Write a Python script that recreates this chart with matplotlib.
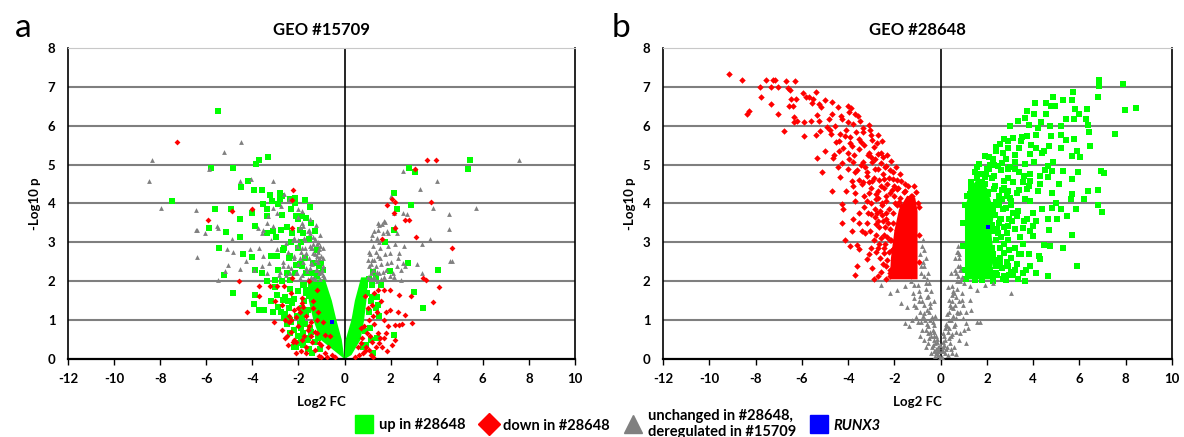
import matplotlib
matplotlib.use("Agg")
import matplotlib.pyplot as plt
from matplotlib.lines import Line2D

plt.rcParams["font.family"] = ["Lato", "DejaVu Sans"]

GREEN = "#00ff00"
RED = "#ff0000"
GRAY = "#808080"
BLUE = "#0000ff"

# ---------------- panel a: GEO #15709 ----------------
# outline of the solid green "V" where points overlap completely
a_up_core_left_x = [0.0, -1.05, -1.35, -1.55, -1.6, -0.85, -0.55, -0.35, -0.12, 0.0]
a_up_core_left_y = [0.0, 0.5, 1.0, 1.5, 2.05, 2.05, 1.5, 1.0, 0.5, 0.0]
a_up_core_right_x = [0.0, 0.05, 0.3, 0.45, 0.72, 1.02, 0.95, 0.85, 0.7, 0.3]
a_up_core_right_y = [0.0, 0.5, 1.0, 1.5, 2.1, 2.1, 1.5, 1.0, 0.5, 0.1]

a_up_pts = [
    (-5.51, 6.37), (-7.49, 4.07), (-5.80, 4.92), (-4.82, 4.92), (-3.69, 5.13), (-3.32, 5.20),
    (-3.85, 5.01), (-4.19, 4.58), (-4.47, 4.43), (-3.92, 4.34), (-3.60, 4.34), (-5.63, 3.87),
    (-4.93, 3.87), (-5.86, 3.38), (-5.15, 3.26), (-4.55, 3.59), (-4.52, 3.14), (-5.43, 2.86),
    (-4.42, 2.71), (-4.02, 2.63), (-5.22, 2.17), (-4.82, 1.70), (-3.89, 1.64), (-3.94, 1.42),
    (-3.69, 1.27), (-3.49, 1.27), (-3.55, 3.98), (-3.36, 3.87), (-3.16, 4.07), (-3.22, 4.21),
    (-2.81, 4.28), (-2.72, 4.19), (-2.82, 4.11), (-2.89, 3.98), (-2.36, 4.11), (-2.16, 4.13),
    (-2.16, 4.02), (-2.33, 3.87), (-3.36, 3.68), (-4.02, 3.76), (-3.89, 3.42), (-3.36, 3.25),
    (-2.99, 3.14), (-2.61, 2.86), (-2.69, 2.80), (-3.19, 2.66), (-2.92, 2.66), (-3.89, 2.28),
    (-3.60, 2.20), (-3.36, 2.00), (-3.02, 2.04), (-2.77, 3.33), (-2.28, 3.25), (-2.09, 3.68),
    (-2.03, 3.59), (-1.83, 3.68), (-1.69, 3.63), (-1.94, 3.33), (-1.78, 3.25), (-1.56, 3.08),
    (-2.03, 2.86), (-2.36, 2.64), (-2.11, 2.43), (-1.86, 2.39), (-1.69, 2.21), (-1.36, 2.47),
    (-1.03, 2.47), (-0.95, 2.30), (-1.20, 2.13), (-2.36, 2.04), (-2.94, 1.65), (-2.69, 1.52),
    (-2.44, 1.48), (-2.28, 1.44), (-2.77, 1.22), (-3.11, 1.22), (-2.61, 1.05), (-2.36, 1.01),
    (-2.19, 0.75), (-1.78, 0.66), (-2.36, 0.66), (-2.03, 0.40), (-1.61, 0.49), (-1.86, 1.01),
    (-1.69, 1.18), (-1.53, 1.61), (-1.69, 1.78), (-1.75, 1.90), (-1.85, 1.30), (-1.95, 0.90),
    (-1.60, 0.25), (-2.10, 0.30), (-1.45, 0.70), (-1.90, 0.55), (-1.15, 2.20),
    (-2.90, 1.35), (-2.60, 1.15), (-2.40, 1.30), (-2.20, 1.55), (-2.00, 1.75), (-1.80, 1.90),
    (-1.75, 1.50), (-2.50, 0.90), (-2.30, 0.95), (-2.05, 1.10), (-1.90, 0.80), (-1.70, 0.90),
    (-1.60, 0.55), (-1.80, 0.35), (-2.00, 0.60), (-2.20, 0.30), (-1.55, 0.25), (-1.40, 0.15),
    (-1.30, 0.45), (-1.50, 0.80), (-1.60, 1.25), (-2.60, 1.60), (-2.15, 2.20), (-1.95, 2.45),
    (-2.50, 2.20), (-2.70, 2.00), (-3.00, 1.85), (-3.20, 1.50), (-1.85, 1.15), (-1.65, 1.70),
    (-2.35, 1.80), (-1.05, 0.25), (-1.15, 0.55), (-1.30, 3.30), (-1.50, 3.90), (-1.70, 4.10),
    (-1.45, 3.50), (-1.20, 2.80), (-1.10, 2.40), (-1.40, 2.20), (-1.70, 2.60), (-2.30, 3.00),
    (-2.50, 3.40), (-2.70, 3.70), (-3.10, 3.30), (-2.40, 2.60), (-2.90, 2.30), (-1.90, 3.00),
    (5.45, 5.12), (5.37, 4.88), (2.79, 4.92), (3.06, 4.81), (2.16, 4.28), (2.87, 3.95),
    (2.29, 3.87), (2.13, 3.31), (1.76, 3.01), (2.76, 2.47), (4.07, 2.30), (1.96, 2.26),
    (3.01, 1.72), (3.42, 1.31), (2.13, 0.62), (1.46, 1.40), (1.13, 1.48), (0.96, 1.70),
    (1.05, 1.22), (0.88, 0.71), (1.13, 0.49), (0.80, 0.32), (1.25, 2.25), (1.35, 2.10),
    (1.20, 1.90), (1.40, 1.60), (0.95, 0.35), (1.10, 0.80), (1.20, 1.60), (1.35, 1.30),
    (1.50, 1.10), (0.90, 1.90), (1.05, 2.05), (1.60, 1.90), (1.40, 0.55), (1.25, 0.15),
]

a_down_pts = [
    (-7.29, 5.57), (-5.93, 3.57), (-4.90, 3.80), (-4.02, 3.87), (-4.57, 2.00), (-4.22, 1.21),
    (-3.72, 1.87), (-3.69, 1.61), (-3.22, 1.89), (-2.94, 1.87), (-2.61, 1.87), (-2.33, 1.70),
    (-2.28, 2.08), (-2.23, 4.35), (-2.28, 4.08), (-2.28, 3.38), (-3.06, 0.96), (-2.39, 0.96),
    (-2.11, 1.09), (-1.86, 1.57), (-1.78, 1.35), (-2.03, 0.84), (-2.19, 0.49), (-1.86, 0.49),
    (-1.69, 0.32), (-1.53, 0.84), (-1.45, 0.58), (-1.28, 0.23), (-0.86, 0.15), (-1.03, 0.36),
    (-1.20, 0.66), (-0.86, 0.62), (-0.70, 0.32), (-0.53, 0.10), (-1.20, 1.01), (-1.36, 1.31),
    (-2.49, 0.58), (-2.11, 0.45), (-2.72, 0.75), (-2.19, 1.27), (-1.53, 2.00), (-1.20, 1.78),
    (-1.65, 0.15), (-1.40, 0.45), (-0.95, 0.95), (-1.10, 0.08), (-2.30, 1.00), (-1.95, 1.20),
    (-0.65, 0.60), (-0.40, 0.05), (-2.45, 0.35), (-2.60, 0.55), (-2.30, 0.70), (-2.10, 0.15),
    (-1.90, 0.20), (-1.75, 0.60), (-1.60, 0.75), (-1.45, 0.95), (-1.30, 0.70), (-1.10, 0.40),
    (-1.00, 0.05), (-0.75, 0.05), (-1.65, 1.10), (-2.00, 1.30), (-2.40, 1.10), (-1.35, 1.50),
    (-1.15, 1.20), (-2.70, 1.40), (-3.00, 1.50), (-2.60, 1.00), (-2.25, 0.45), (-1.85, 1.45),
    (3.57, 5.12), (3.99, 5.12), (3.04, 4.88), (2.04, 4.11), (2.18, 4.04), (1.84, 3.95),
    (2.13, 3.76), (2.62, 3.57), (2.82, 3.57), (3.75, 4.05), (3.12, 3.14), (4.67, 2.86),
    (2.21, 3.38), (1.63, 3.09), (3.54, 2.04), (3.41, 2.08), (4.09, 1.84), (3.84, 1.46),
    (2.38, 1.65), (2.87, 1.61), (1.96, 1.78), (1.71, 1.78), (1.96, 1.27), (1.79, 1.22),
    (2.62, 1.14), (2.92, 0.92), (2.38, 0.88), (2.21, 0.88), (1.88, 0.84), (1.79, 0.66),
    (2.21, 0.49), (1.46, 0.66), (1.38, 0.32), (1.63, 0.32), (1.05, 0.23), (1.21, 0.45),
    (0.80, 0.15), (0.63, 0.10), (0.96, 0.66), (1.05, 1.01), (0.88, 1.61), (1.30, 1.70),
    (1.46, 1.78), (1.15, 0.10), (1.55, 0.55), (0.45, 0.05), (0.70, 0.40), (1.25, 1.10),
    (1.70, 1.00), (0.95, 0.30), (0.60, 0.30), (0.75, 0.55), (0.90, 0.20), (1.10, 0.60),
    (1.30, 0.90), (1.50, 0.40), (1.70, 0.55), (1.85, 0.20), (2.05, 0.35), (1.20, 1.40),
    (1.40, 1.20), (1.60, 1.50), (0.85, 0.85), (1.00, 1.30), (2.30, 1.20), (2.50, 0.90),
    (0.70, 0.80), (1.25, 0.05),
]

a_gray_pts = [
    (-8.36, 5.12), (-8.49, 4.57), (-7.96, 3.88), (-6.43, 3.82), (-6.45, 3.33), (-6.38, 3.31),
    (-6.06, 3.23), (-6.38, 2.63), (-5.23, 5.33), (-4.47, 5.57), (-5.88, 4.88), (-4.55, 4.57),
    (-4.07, 4.63), (-3.12, 4.57), (-5.55, 3.42), (-5.51, 3.38), (-4.90, 3.09), (-5.10, 2.84),
    (-5.05, 2.43), (-5.18, 2.26), (-5.51, 2.02), (-4.55, 2.32), (-4.27, 2.52), (-4.82, 2.75),
    (-4.10, 2.83), (-3.69, 2.86), (-3.77, 3.38), (-3.55, 3.33), (-3.60, 3.25), (-3.36, 3.49),
    (-3.12, 3.42), (-2.61, 4.25), (-2.39, 4.11), (-2.77, 3.94), (-3.11, 3.89), (-2.94, 3.76),
    (-3.31, 3.68), (-3.19, 3.07), (-2.94, 2.82), (-3.52, 2.64), (-3.27, 2.47), (-3.60, 2.39),
    (-3.94, 2.28), (-3.36, 2.21), (-2.86, 2.17), (-2.44, 2.39), (-2.19, 2.64), (-1.86, 2.86),
    (-2.03, 3.07), (-1.78, 3.42), (-1.50, 3.25), (-1.28, 3.08), (-1.11, 2.82), (-0.95, 2.60),
    (-1.20, 2.64), (-1.45, 2.47), (-1.61, 2.26), (-1.20, 2.30), (-0.95, 2.17), (-1.36, 2.08),
    (-1.94, 2.08), (-1.69, 2.73), (-1.45, 2.86), (-1.86, 3.81), (-2.03, 3.85), (-1.53, 3.33),
    (-2.19, 3.12), (-2.52, 2.99), (-2.36, 2.21), (-2.06, 2.21), (-2.69, 2.39), (-1.36, 2.73),
    (-0.90, 2.10), (-0.95, 2.40), (-1.00, 2.65), (-1.05, 2.90), (-1.10, 2.20), (-1.15, 2.50),
    (-1.20, 2.95), (-1.25, 2.30), (-1.30, 2.70), (-1.35, 3.15), (-1.40, 2.45), (-1.45, 2.10),
    (-1.50, 2.90), (-1.55, 2.60), (-1.60, 3.30), (-1.65, 2.35), (-1.70, 2.85), (-1.75, 3.10),
    (-1.80, 2.50), (-1.85, 2.15), (-1.90, 2.75), (-1.95, 3.40), (-2.00, 2.45), (-2.05, 2.90),
    (-2.10, 2.20), (-2.20, 2.60), (-2.25, 3.05), (-2.30, 2.35), (-2.45, 2.75), (-2.55, 2.15),
    (-2.65, 2.50), (-2.80, 2.25), (-1.05, 3.20), (-1.25, 3.45), (-1.50, 3.60), (-1.30, 2.05),
    (-1.00, 2.25), (-1.15, 2.75), (-1.60, 2.05), (-1.75, 2.65), (-1.40, 2.85), (-2.00, 3.65),
    (-1.85, 3.50), (-1.15, 3.00), (-0.92, 2.85), (-1.05, 2.05), (-1.25, 2.55), (-1.50, 2.35),
    (-1.70, 3.05), (-1.95, 2.60), (-1.35, 2.95), (-1.10, 2.60), (-0.98, 2.30),
    (7.57, 5.12), (2.54, 4.84), (3.29, 4.38), (4.00, 4.57), (3.84, 3.89), (5.70, 3.89),
    (4.53, 3.74), (4.53, 3.35), (3.70, 3.09), (3.37, 2.95), (3.16, 2.45), (4.58, 2.52),
    (4.67, 2.52), (3.37, 2.21), (2.57, 2.90), (2.46, 2.02), (2.13, 2.10), (2.62, 2.39),
    (2.29, 2.39), (1.99, 2.13), (1.83, 2.47), (1.96, 2.73), (2.29, 3.25), (2.38, 2.73),
    (2.54, 2.47), (2.13, 3.76), (2.54, 3.76), (2.71, 3.72), (1.63, 3.47), (1.46, 3.31),
    (1.76, 3.52), (2.03, 4.18), (2.21, 3.42), (1.88, 3.25), (1.00, 2.10), (1.05, 2.40),
    (1.10, 2.70), (1.15, 2.20), (1.20, 2.55), (1.25, 2.90), (1.30, 2.10), (1.35, 2.40),
    (1.40, 3.10), (1.45, 2.65), (1.50, 2.20), (1.55, 2.85), (1.60, 2.45), (1.65, 3.25),
    (1.70, 2.10), (1.75, 2.70), (1.80, 2.30), (1.90, 2.90), (2.00, 2.50), (2.10, 2.20),
    (2.20, 2.95), (1.30, 3.30), (1.15, 3.05), (1.50, 3.45), (1.00, 2.55), (1.10, 2.05),
    (1.40, 2.00), (1.60, 2.05), (1.25, 2.30), (1.35, 2.75), (1.45, 3.50), (1.70, 3.55),
    (1.85, 3.30), (2.30, 2.60), (2.45, 2.30), (1.20, 2.05), (1.05, 2.75), (1.30, 2.55),
    (1.55, 2.60), (1.65, 2.25), (1.15, 2.45), (1.40, 2.25), (1.20, 3.20), (1.50, 3.00),
]

a_runx3_x = [-0.53]
a_runx3_y = [0.96]

# ---------------- panel b: GEO #28648 ----------------
# outlines of the solid blocks where points overlap completely
b_down_core_x = [-2.2, -1.0, -1.0, -1.1, -1.45, -1.8, -2.0, -2.15]
b_down_core_y = [2.05, 2.05, 3.8, 4.15, 4.2, 3.85, 3.3, 2.6]
b_up_core_x = [1.05, 2.15, 2.3, 2.2, 2.3, 2.0, 1.6, 1.3, 1.05]
b_up_core_y = [2.05, 2.05, 2.6, 3.2, 3.8, 4.4, 4.65, 4.4, 3.9]

b_down_pts = [
    (-9.17, 7.34), (-8.59, 7.17), (-7.55, 7.17), (-7.26, 7.17), (-7.17, 7.17), (-6.68, 7.15),
    (-6.29, 7.15), (-7.80, 6.99), (-7.34, 6.99), (-7.03, 6.99), (-6.58, 6.97), (-6.53, 6.93),
    (-7.75, 6.74), (-7.34, 6.55), (-8.29, 6.39), (-8.38, 6.30), (-7.03, 6.30), (-6.78, 5.86),
    (-6.48, 6.68), (-6.24, 6.68), (-6.40, 6.52), (-6.57, 6.52), (-5.96, 6.85), (-5.83, 6.75),
    (-5.71, 6.74), (-5.41, 6.86), (-5.50, 6.69), (-5.58, 6.59), (-5.28, 6.56), (-5.00, 6.67),
    (-4.71, 6.62), (-5.17, 6.48), (-5.36, 6.28), (-6.32, 6.22), (-6.19, 6.12), (-6.32, 6.09),
    (-5.91, 6.09), (-5.61, 6.13), (-5.25, 6.11), (-4.84, 6.18), (-4.43, 6.48), (-4.02, 6.50),
    (-3.88, 6.45), (-3.69, 6.30), (-3.56, 6.24), (-3.50, 6.13), (-4.26, 6.18), (-4.02, 6.09),
    (-3.77, 6.05), (-3.11, 6.02), (-4.92, 5.96), (-5.20, 5.87), (-5.41, 5.76), (-5.91, 5.73),
    (-4.76, 5.79), (-4.34, 5.79), (-4.13, 5.74), (-3.93, 5.70), (-3.65, 5.83), (-3.36, 5.83),
    (-3.03, 5.76), (-2.73, 5.76), (-4.54, 5.57), (-4.21, 5.44), (-3.85, 5.49), (-3.44, 5.59),
    (-2.95, 5.63), (-2.53, 5.62), (-5.00, 5.36), (-4.38, 5.36), (-4.02, 5.31), (-3.52, 5.40),
    (-3.11, 5.31), (-2.70, 5.27), (-5.33, 5.16), (-4.67, 5.16), (-3.77, 5.06), (-3.36, 5.06),
    (-2.95, 5.06), (-2.50, 5.19), (-5.12, 4.81), (-4.43, 4.93), (-4.02, 4.88), (-3.69, 4.80),
    (-3.19, 4.80), (-2.70, 4.88), (-2.37, 4.97), (-2.04, 4.80), (-4.34, 4.67), (-3.85, 4.58),
    (-3.36, 4.54), (-2.95, 4.58), (-2.45, 4.63), (-2.04, 4.63), (-1.71, 4.58), (-4.71, 4.32),
    (-4.10, 4.32), (-3.69, 4.28), (-3.11, 4.28), (-2.70, 4.32), (-2.21, 4.28), (-1.88, 4.37),
    (-1.55, 4.32), (-4.26, 3.98), (-3.69, 4.07), (-3.19, 4.07), (-2.78, 4.11), (-2.37, 4.07),
    (-4.21, 3.87), (-3.52, 3.76), (-3.03, 3.72), (-2.62, 3.81), (-4.26, 3.51), (-3.52, 3.51),
    (-3.19, 3.51), (-2.78, 3.46), (-2.29, 3.51), (-3.82, 3.29), (-3.27, 3.25), (-2.78, 3.20),
    (-4.15, 3.05), (-3.60, 2.92), (-3.93, 2.90), (-3.52, 2.82), (-3.03, 2.86), (-2.70, 2.86),
    (-3.19, 2.56), (-2.62, 2.60), (-2.45, 2.73), (-3.60, 2.40), (-3.69, 2.17), (-2.70, 2.13),
    (-2.37, 2.39), (-2.21, 2.13), (-2.04, 2.82), (-2.21, 3.07), (-1.88, 3.33), (-2.04, 3.76),
    (-1.71, 3.94), (-1.38, 4.11), (-1.96, 4.02), (-2.37, 3.76), (-1.22, 4.19),
    (-3.40, 4.50), (-3.20, 4.70), (-3.00, 4.40), (-2.85, 4.90), (-2.60, 4.45), (-2.50, 4.75),
    (-2.30, 4.50), (-2.20, 4.85), (-2.10, 4.35), (-1.90, 4.60), (-1.80, 4.05), (-2.00, 4.20),
    (-2.70, 4.15), (-3.30, 4.20), (-2.90, 4.65), (-2.40, 4.95), (-3.60, 4.85), (-3.80, 4.45),
    (-2.15, 5.10), (-2.60, 5.05), (-3.00, 5.20), (-3.45, 5.00), (-2.35, 4.20), (-2.55, 4.00),
    (-4.40, 5.60), (-4.10, 5.90), (-3.90, 5.55), (-3.75, 5.25), (-3.55, 5.65), (-3.30, 5.50),
    (-3.15, 5.25), (-2.90, 5.45), (-2.75, 5.55), (-2.60, 5.30), (-4.60, 5.25), (-4.25, 5.05),
    (-3.95, 5.15), (-4.80, 5.90), (-4.55, 6.00), (-3.35, 5.95), (-3.05, 5.90), (-4.30, 6.25),
    (-4.70, 6.30), (-3.95, 6.35), (-3.30, 3.90), (-3.05, 3.30), (-2.85, 3.65), (-2.65, 3.40),
    (-2.55, 3.95), (-2.45, 3.20), (-2.35, 3.60), (-2.25, 3.85), (-2.20, 3.35), (-2.15, 3.05),
    (-2.90, 3.05), (-3.40, 3.30), (-2.75, 3.75), (-2.50, 3.55), (-3.15, 3.75), (-2.40, 2.95),
    (-2.30, 3.15), (-3.80, 3.60), (-2.95, 2.35), (-2.80, 2.75), (-2.60, 2.25), (-2.50, 2.45),
    (-2.45, 2.85), (-2.35, 2.05), (-2.30, 2.55), (-2.25, 2.75), (-2.20, 2.20), (-2.90, 2.05),
    (-3.10, 2.70), (-2.65, 2.95), (-1.00, 4.00), (-1.05, 4.30), (-1.15, 4.45), (-1.30, 4.20),
    (-1.60, 4.30), (-1.75, 4.15), (-1.90, 3.95), (-2.05, 3.50), (-2.12, 2.80), (-2.18, 2.30),
    (-0.95, 3.90), (-0.92, 2.50), (-0.92, 3.20), (-1.40, 4.45), (-1.55, 4.50), (-1.85, 4.40),
    (-2.45, 4.40), (-2.65, 4.60), (-2.80, 4.25), (-3.10, 4.55), (-2.25, 4.65), (-2.00, 4.45),
    (-1.75, 4.75), (-2.55, 3.70), (-2.70, 3.55), (-2.40, 3.40), (-2.60, 3.10), (-2.85, 3.85),
    (-3.00, 4.00), (-1.95, 4.95), (-2.30, 5.25), (-2.85, 5.15), (-3.25, 4.95), (-3.55, 4.60),
]

b_up_pts = [
    (6.85, 7.17), (6.85, 7.02), (7.87, 7.07), (6.78, 6.75), (5.74, 6.86), (7.95, 6.40),
    (8.44, 6.46), (4.87, 6.74), (4.08, 6.59), (4.54, 6.59), (4.75, 6.50), (4.95, 6.50),
    (3.72, 6.39), (5.28, 6.65), (5.69, 6.65), (5.81, 6.43), (5.97, 6.30), (6.34, 6.43),
    (5.76, 6.18), (5.40, 6.18), (6.30, 6.18), (4.54, 6.30), (4.05, 6.30), (3.36, 6.11),
    (3.80, 6.02), (4.34, 6.09), (4.74, 5.99), (5.20, 5.99), (6.35, 6.02), (6.39, 5.85),
    (7.54, 5.78), (2.73, 5.66), (3.11, 5.68), (3.47, 5.62), (3.72, 5.74), (4.13, 5.76),
    (4.75, 5.74), (5.20, 5.76), (5.40, 5.64), (5.78, 5.66), (2.57, 5.53), (2.90, 5.44),
    (3.39, 5.44), (4.13, 5.44), (4.69, 5.49), (5.20, 5.44), (5.90, 5.36), (6.47, 5.47),
    (2.40, 5.36), (3.88, 5.27), (4.38, 5.31), (5.69, 5.23), (6.02, 5.19), (1.91, 5.23),
    (2.24, 5.14), (2.81, 5.14), (3.23, 5.06), (3.64, 5.01), (4.05, 5.06), (4.87, 5.06),
    (4.62, 4.97), (1.66, 5.01), (2.07, 4.88), (2.48, 4.97), (2.90, 4.88), (3.39, 4.80),
    (3.88, 4.75), (4.79, 4.84), (5.28, 4.84), (5.94, 4.80), (6.93, 4.84), (7.04, 4.78),
    (1.50, 4.80), (1.91, 4.67), (2.32, 4.71), (2.73, 4.58), (3.14, 4.54), (3.55, 4.54),
    (3.88, 4.58), (4.30, 4.71), (4.62, 4.67), (5.12, 4.50), (5.69, 4.63), (1.33, 4.50),
    (1.74, 4.41), (2.32, 4.37), (2.90, 4.32), (3.31, 4.28), (3.72, 4.37), (4.21, 4.32),
    (4.79, 4.28), (5.66, 4.24), (6.35, 4.32), (6.80, 4.34), (1.25, 4.24), (2.65, 4.11),
    (3.06, 4.07), (3.64, 4.11), (3.88, 4.07), (6.19, 4.11), (5.00, 4.01), (5.64, 4.11),
    (2.81, 3.89), (3.14, 3.76), (4.38, 3.85), (4.79, 3.89), (5.20, 3.85), (5.86, 3.85),
    (6.80, 3.96), (6.97, 3.78), (2.57, 3.59), (3.31, 3.68), (3.72, 3.59), (4.13, 3.55),
    (4.62, 3.59), (5.03, 3.59), (5.44, 3.68), (2.90, 3.42), (3.55, 3.38), (3.97, 3.42),
    (4.70, 3.33), (5.67, 3.20), (2.48, 3.25), (2.90, 3.07), (3.23, 2.86), (3.55, 2.95),
    (3.97, 3.16), (4.46, 2.92), (4.74, 2.90), (5.28, 2.85), (2.73, 2.73), (3.06, 2.60),
    (3.47, 2.69), (4.26, 2.64), (4.30, 2.56), (2.57, 2.47), (2.90, 2.39), (3.23, 2.30),
    (3.88, 2.39), (5.89, 2.39), (2.40, 2.21), (2.73, 2.13), (3.14, 2.17), (3.55, 2.21),
    (4.13, 2.21), (4.62, 2.13), (2.81, 2.04), (3.64, 2.00), (2.24, 2.00),
    (2.15, 2.30), (2.30, 2.55), (2.45, 2.15), (2.55, 2.60), (2.65, 2.35), (2.70, 2.05),
    (2.85, 2.50), (2.95, 2.80), (3.05, 2.25), (3.30, 2.45), (3.40, 2.70), (2.20, 2.85),
    (2.40, 3.05), (2.60, 3.15), (2.75, 2.95), (3.35, 2.05), (3.70, 2.30), (3.80, 2.70),
    (2.20, 3.45), (2.35, 3.70), (2.45, 3.35), (2.60, 3.60), (2.70, 3.85), (2.85, 3.25),
    (2.95, 3.60), (3.05, 3.95), (3.20, 3.35), (3.35, 3.80), (3.45, 3.15), (2.25, 3.95),
    (2.50, 3.95), (3.60, 3.55), (3.85, 3.30), (4.00, 3.75), (1.30, 4.55), (1.50, 4.35),
    (1.70, 4.75), (1.90, 4.50), (2.05, 4.30), (2.20, 4.65), (2.35, 4.45), (2.50, 4.20),
    (2.60, 4.85), (2.75, 4.40), (2.90, 4.65), (3.00, 4.15), (3.20, 4.90), (3.40, 4.35),
    (3.60, 4.70), (3.80, 4.45), (1.55, 4.95), (2.00, 4.90), (2.30, 5.00), (2.65, 5.05),
    (3.00, 4.95), (4.30, 4.50), (4.50, 4.85), (2.10, 5.20), (2.40, 5.45), (2.70, 5.30),
    (2.90, 5.60), (3.20, 5.25), (3.50, 5.70), (3.90, 5.50), (4.20, 5.95), (4.45, 5.35),
    (3.00, 6.00), (3.65, 6.20), (0.98, 2.30), (0.98, 2.90), (0.98, 3.50), (1.05, 3.95),
    (1.15, 4.20), (1.30, 4.40), (1.55, 4.65), (1.80, 4.55), (2.05, 4.25), (2.25, 3.85),
    (2.30, 3.30), (2.25, 2.70), (2.20, 2.15), (1.50, 2.02), (1.10, 2.05), (1.80, 2.02),
    (2.40, 2.40), (2.55, 2.85), (2.50, 3.50), (2.40, 4.05), (2.65, 4.35), (1.95, 4.75),
    (2.15, 5.00), (2.85, 4.20), (3.10, 3.55), (2.75, 3.40), (2.35, 2.20), (2.95, 2.15),
]

b_gray_pts = [
    (-0.76, 3.06), (-2.57, 1.91), (-2.21, 1.70), (-1.88, 1.78), (-1.55, 1.87), (-1.14, 1.91),
    (-0.72, 2.13), (-0.64, 1.96), (-0.89, 1.61), (-1.14, 1.57), (-1.46, 1.35), (-1.05, 1.35),
    (-1.55, 0.92), (-1.22, 1.01), (-0.56, 1.61), (-0.48, 1.44), (-0.72, 1.18), (-0.39, 1.09),
    (-0.81, 0.75), (-0.56, 0.66), (-0.31, 0.58), (-0.72, 0.49), (-0.39, 0.32), (-0.15, 0.15),
    (-0.23, 0.40), (-0.89, 0.58), (-0.31, 0.88), (-1.05, 1.09), (-1.38, 0.84), (-0.75, 3.05),
    (-0.70, 2.80), (-0.65, 2.60), (-0.70, 2.40), (-0.55, 2.20), (-0.60, 2.05), (-0.75, 2.50),
    (-0.10, 0.10), (-0.20, 0.25), (-0.30, 0.50), (-0.45, 0.70), (-0.60, 0.90), (-0.50, 1.20),
    (-0.70, 1.40), (-0.65, 1.80), (-0.80, 1.50), (-0.90, 1.20), (-1.00, 0.95), (-0.30, 0.20),
    (-0.15, 0.45), (-0.35, 0.75), (-0.55, 0.40), (-0.75, 1.10), (-0.95, 1.75), (-0.85, 2.40),
    (-0.90, 2.70), (-0.80, 2.90), (-0.85, 2.20), (-1.20, 1.70), (-1.00, 1.90), (-1.30, 2.00),
    (-0.05, 0.05), (-0.25, 0.08), (-0.40, 0.15), (-0.62, 0.30), (-0.45, 1.00), (-0.20, 0.60),
    (-0.35, 0.95), (-0.45, 1.35), (-0.60, 1.60), (-0.05, 0.35), (-0.25, 1.10), (-0.40, 1.75),
    (-0.50, 1.95), (-0.30, 1.50), (-1.15, 1.40), (-0.95, 1.50), (-1.70, 1.45), (-0.10, 0.20),
    (-0.12, 0.30), (-0.22, 0.15), (-0.35, 0.35), (-0.50, 0.55), (-0.65, 0.75), (-0.40, 0.60),
    (-0.28, 0.70), (-0.55, 0.85), (-0.18, 0.52), (-0.68, 1.00), (-0.60, 1.25), (-0.85, 0.95),
    (0.76, 2.90), (0.84, 2.39), (0.67, 2.21), (1.00, 1.96), (1.25, 1.87), (1.58, 1.78),
    (1.91, 1.91), (2.24, 1.96), (3.06, 1.71), (1.25, 1.52), (0.92, 1.52), (0.59, 1.70),
    (0.43, 1.35), (0.76, 1.18), (1.33, 1.27), (1.58, 0.96), (1.71, 0.94), (1.09, 0.92),
    (0.59, 0.84), (0.35, 1.01), (0.84, 0.66), (0.43, 0.58), (0.26, 0.32), (0.59, 0.32),
    (0.18, 0.15), (1.09, 0.40), (0.10, 0.66), (0.26, 0.84), (0.35, 1.52), (0.51, 1.87),
    (0.76, 2.13), (0.10, 0.20), (0.20, 0.50), (0.30, 0.70), (0.45, 1.00), (0.55, 1.30),
    (0.65, 1.60), (0.70, 2.00), (0.75, 2.40), (0.80, 2.70), (0.60, 2.60), (0.85, 2.00),
    (0.40, 0.40), (0.60, 0.90), (0.50, 1.50), (0.90, 1.70), (0.70, 1.20), (0.25, 0.90),
    (0.15, 0.60), (0.35, 1.20), (0.95, 1.40), (1.10, 1.20), (1.20, 0.80), (0.80, 0.50),
    (0.50, 0.15), (0.75, 2.75), (0.80, 2.60), (0.85, 2.30), (0.90, 2.10), (0.72, 2.75),
    (0.05, 0.05), (0.30, 0.10), (0.45, 0.25), (0.65, 0.12), (0.20, 0.80), (0.35, 0.55),
    (0.15, 0.35), (0.05, 0.20), (0.40, 1.40), (0.55, 1.75), (0.45, 2.20), (0.60, 2.30),
    (0.30, 1.85), (0.65, 1.05), (0.85, 1.20), (1.00, 0.75), (0.08, 0.30), (-0.08, 0.20),
    (0.12, 0.45), (0.22, 0.25), (0.38, 0.80), (0.50, 0.65), (0.68, 0.70), (0.55, 1.10),
    (0.28, 1.15), (0.62, 1.40), (0.78, 1.50), (0.70, 1.80), (0.48, 1.65), (0.95, 1.05),
]

b_runx3_x = [2.04]
b_runx3_y = [3.40]

x_ticks = list(range(-12, 11, 2))
y_ticks = list(range(0, 9))


def xs(pts):
    return [p[0] for p in pts]


def ys(pts):
    return [p[1] for p in pts]


def style_axes(ax, title):
    ax.set_xlim(-12, 10)
    ax.set_ylim(0, 8)
    for y in y_ticks[1:8]:
        ax.axhline(y, color="#7f7f7f", lw=1.5, zorder=0.5)
    ax.axvline(0, color="black", lw=1.2, zorder=0.6)
    for side in ["left", "right", "bottom"]:
        ax.spines[side].set_color("black")
        ax.spines[side].set_linewidth(1.2)
    ax.spines["top"].set_color("#c8c8c8")
    ax.spines["top"].set_linewidth(0.8)
    ax.spines["bottom"].set_linewidth(1.6)
    ax.set_xticks(x_ticks)
    ax.set_yticks(y_ticks)
    ax.set_xticklabels([str(v) for v in x_ticks], fontsize=9.5, fontweight="bold")
    ax.set_yticklabels([str(v) for v in y_ticks], fontsize=9.5, fontweight="bold")
    ax.tick_params(axis="x", length=4, width=1, pad=6, direction="out")
    ax.tick_params(axis="y", length=0, pad=9)
    ax.set_xlabel("Log2 FC", fontsize=9.5, fontweight="bold", labelpad=8)
    ax.set_ylabel("-Log10 p", fontsize=9.5, fontweight="bold", labelpad=5)
    ax.text(0.5, 1.058, title, transform=ax.transAxes, ha="center", va="center",
            fontsize=12, fontweight="bold")


fig = plt.figure(figsize=(11.84, 4.37), dpi=100)
ax_a = fig.add_axes([0.0574, 0.1785, 0.4282, 0.7117])
ax_b = fig.add_axes([0.5600, 0.1785, 0.4299, 0.7117])

# panel a
ax_a.fill(a_up_core_left_x, a_up_core_left_y, color=GREEN, lw=0, zorder=2)
ax_a.fill(a_up_core_right_x, a_up_core_right_y, color=GREEN, lw=0, zorder=2)
ax_a.scatter(xs(a_up_pts), ys(a_up_pts), marker="s", s=14, color=GREEN, lw=0, zorder=2)
ax_a.scatter(xs(a_gray_pts), ys(a_gray_pts), marker="^", s=12, color=GRAY, lw=0, zorder=3)
ax_a.scatter(xs(a_down_pts), ys(a_down_pts), marker="D", s=9, color=RED, lw=0, zorder=4)
ax_a.scatter(a_runx3_x, a_runx3_y, marker="s", s=12, color=BLUE, lw=0, zorder=5)
style_axes(ax_a, "GEO #15709")

# panel b
ax_b.fill(b_down_core_x, b_down_core_y, color=RED, lw=0, zorder=2)
ax_b.scatter(xs(b_down_pts), ys(b_down_pts), marker="D", s=11, color=RED, lw=0, zorder=2)
ax_b.fill(b_up_core_x, b_up_core_y, color=GREEN, lw=0, zorder=2)
ax_b.scatter(xs(b_up_pts), ys(b_up_pts), marker="s", s=15, color=GREEN, lw=0, zorder=2)
ax_b.scatter(xs(b_gray_pts), ys(b_gray_pts), marker="^", s=12, color=GRAY, lw=0, zorder=3)
ax_b.scatter(b_runx3_x, b_runx3_y, marker="s", s=12, color=BLUE, lw=0, zorder=5)
style_axes(ax_b, "GEO #28648")

fig.text(15 / 1184, 1 - 28 / 437, "a", fontsize=24, ha="left", va="center")
fig.text(612 / 1184, 1 - 28 / 437, "b", fontsize=24, ha="left", va="center")

handles = [
    Line2D([], [], marker="s", ls="none", color=GREEN, markersize=13),
    Line2D([], [], marker="D", ls="none", color=RED, markersize=11),
    Line2D([], [], marker="^", ls="none", color=GRAY, markersize=13),
    Line2D([], [], marker="s", ls="none", color=BLUE, markersize=13),
]
labels = ["up in #28648", "down in #28648",
          "unchanged in #28648,\nderegulated in #15709", "RUNX3"]
leg = fig.legend(handles, labels, loc="center", bbox_to_anchor=(619 / 1184, 1 - 424 / 437),
                 ncol=4, frameon=False, handlelength=1.0, handletextpad=0.5,
                 columnspacing=1.1, prop={"size": 10.5, "weight": "bold"})
leg.get_texts()[3].set_style("italic")

fig.savefig("out.png", dpi=100)
